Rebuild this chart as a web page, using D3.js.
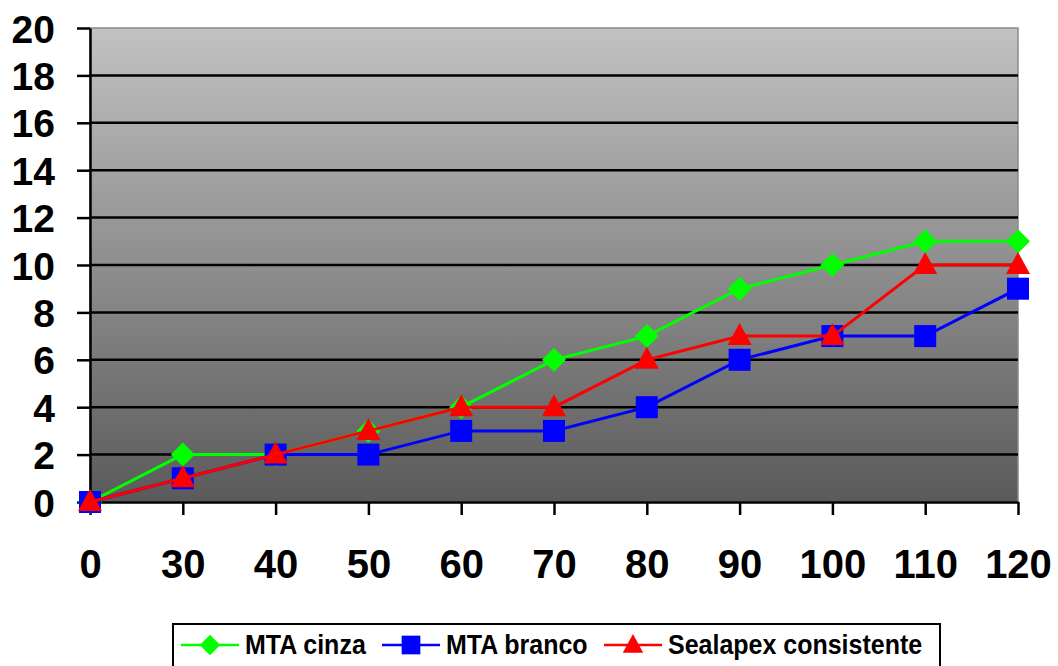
<!DOCTYPE html>
<html>
<head>
<meta charset="utf-8">
<script src="https://cdn.jsdelivr.net/npm/d3@7"></script>
<style>
  html, body { margin: 0; padding: 0; background: #fff; }
  svg { display: block; font-family: Arial, "Liberation Sans", sans-serif; }
</style>
</head>
<body>
<svg id="chart" width="1058" height="666"></svg>
<script>
// Time points (x categories)
const categories = ["0", "30", "40", "50", "60", "70", "80", "90", "100", "110", "120"];
// Series values
const mtaCinza = [0, 2, 2, 3, 4, 6, 7, 9, 10, 11, 11];
const mtaBranco = [0, 1, 2, 2, 3, 3, 4, 6, 7, 7, 9];
const sealapex = [0, 1, 2, 3, 4, 4, 6, 7, 7, 10, 10];
// Y axis ticks
const yTicks = [0, 2, 4, 6, 8, 10, 12, 14, 16, 18, 20];

const series = [
  { name: "MTA cinza", values: mtaCinza, color: "#00ff00", symbol: "diamond" },
  { name: "MTA branco", values: mtaBranco, color: "#0000ff", symbol: "square" },
  { name: "Sealapex consistente", values: sealapex, color: "#ff0000", symbol: "triangle" }
];

const svg = d3.select("#chart");
const plotL = 90, plotR = 1018, plotT = 28, plotB = 502;

const x = d3.scalePoint().domain(categories).range([plotL, plotR]).padding(0);
const y = d3.scaleLinear().domain([0, 20]).range([plotB, plotT]);

// Plot background gradient
const defs = svg.append("defs");
const grad = defs.append("linearGradient").attr("id", "bg").attr("x1", 0).attr("y1", 0).attr("x2", 0).attr("y2", 1);
grad.append("stop").attr("offset", "0%").attr("stop-color", "#c2c2c2");
grad.append("stop").attr("offset", "100%").attr("stop-color", "#5a5a5a");

svg.append("rect")
  .attr("x", plotL).attr("y", plotT)
  .attr("width", plotR - plotL).attr("height", plotB - plotT)
  .attr("fill", "url(#bg)")
  .attr("stroke", "#8a8a8a").attr("stroke-width", 1.5);

// Horizontal gridlines
svg.append("g").selectAll("line").data(yTicks.filter(d => d > 0 && d < 20)).join("line")
  .attr("x1", plotL).attr("x2", plotR)
  .attr("y1", d => y(d)).attr("y2", d => y(d))
  .attr("stroke", "#000").attr("stroke-width", 2.5);

// Y axis
const yAxis = svg.append("g").attr("transform", `translate(${plotL},0)`)
  .call(d3.axisLeft(y).tickValues(yTicks).tickSize(13).tickPadding(22).tickSizeOuter(0));
yAxis.select(".domain").attr("stroke", "#000").attr("stroke-width", 2.5);
yAxis.selectAll(".tick line").attr("stroke", "#000").attr("stroke-width", 2.5);
yAxis.selectAll("text").attr("font-size", 39).attr("font-weight", "bold").attr("fill", "#000")
  .attr("dy", "0.36em");

// X axis
const xAxis = svg.append("g").attr("transform", `translate(0,${plotB})`)
  .call(d3.axisBottom(x).tickSize(13).tickPadding(35).tickSizeOuter(0));
xAxis.select(".domain").attr("stroke", "#000").attr("stroke-width", 2.5);
xAxis.selectAll(".tick line").attr("stroke", "#000").attr("stroke-width", 2.5);
xAxis.selectAll("text").attr("font-size", 40).attr("font-weight", "bold").attr("fill", "#000");

// Marker shapes
function markerPath(symbol) {
  if (symbol === "diamond") return "M0,-12L12,0L0,12L-12,0Z";
  if (symbol === "square") return "M-11,-11H11V11H-11Z";
  return "M0,-13L12,9H-12Z";
}

const line = d3.line().x((d, i) => x(categories[i])).y(d => y(d));

series.forEach(s => {
  const g = svg.append("g");
  g.append("path").datum(s.values)
    .attr("d", line).attr("fill", "none")
    .attr("stroke", s.color).attr("stroke-width", 3);
  g.selectAll("path.m").data(s.values).join("path").attr("class", "m")
    .attr("transform", (d, i) => `translate(${x(categories[i])},${y(d)})`)
    .attr("d", markerPath(s.symbol))
    .attr("fill", s.color);
});

// Legend
const legend = svg.append("g");
legend.append("rect")
  .attr("x", 173).attr("y", 624).attr("width", 767).attr("height", 50)
  .attr("fill", "#fff").attr("stroke", "#000").attr("stroke-width", 2);

const legendX = [181, 382, 604];
series.forEach((s, i) => {
  const g = legend.append("g").attr("transform", `translate(${legendX[i]},${645})`);
  g.append("line").attr("x1", 0).attr("x2", 58).attr("y1", 0).attr("y2", 0)
    .attr("stroke", s.color).attr("stroke-width", 2.5);
  g.append("path").attr("transform", "translate(29,0) scale(0.85)")
    .attr("d", markerPath(s.symbol)).attr("fill", s.color);
  g.append("text").attr("transform", "translate(64,9) scale(1,1.1)")
    .attr("font-size", 25).attr("font-weight", "bold").attr("fill", "#000")
    .text(s.name);
});
</script>
</body>
</html>
